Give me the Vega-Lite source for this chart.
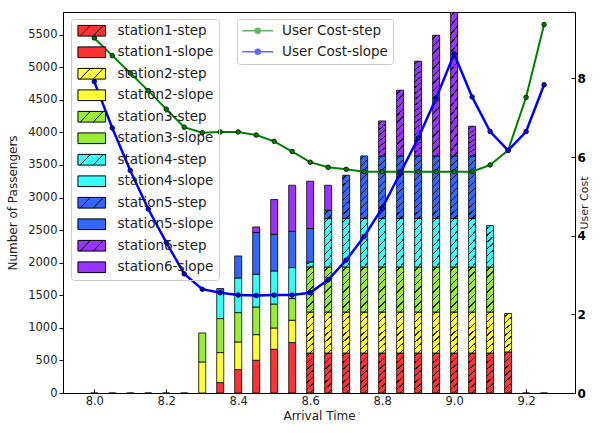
{
  "$schema": "https://vega.github.io/schema/vega-lite/v6.json",
  "width": 512,
  "height": 381,
  "autosize": {"type": "none"},
  "padding": {"left": 63, "top": 12, "right": 28, "bottom": 40},
  "config": {
    "view": {"stroke": "black", "strokeWidth": 1},
    "font": "DejaVu Sans",
    "axis": {"grid": false, "domainColor": "black", "tickColor": "black", "labelColor": "#222", "titleColor": "#222", "titleFontWeight": "normal", "labelFont": "DejaVu Sans", "titleFont": "DejaVu Sans"}
  },
  "datasets": {
    "bars": [
      {"t": 8.0, "seg": "station1-step", "v": 0},
      {"t": 8.05, "seg": "station1-step", "v": 0},
      {"t": 8.1, "seg": "station1-step", "v": 0},
      {"t": 8.15, "seg": "station1-step", "v": 0},
      {"t": 8.2, "seg": "station1-step", "v": 0},
      {"t": 8.25, "seg": "station1-step", "v": 0},
      {"t": 8.3, "seg": "station2-slope", "v": 476},
      {"t": 8.3, "seg": "station3-slope", "v": 445},
      {"t": 8.35, "seg": "station1-slope", "v": 160},
      {"t": 8.35, "seg": "station2-slope", "v": 460},
      {"t": 8.35, "seg": "station3-slope", "v": 522},
      {"t": 8.35, "seg": "station4-slope", "v": 413},
      {"t": 8.35, "seg": "station5-slope", "v": 48},
      {"t": 8.4, "seg": "station1-slope", "v": 359},
      {"t": 8.4, "seg": "station2-slope", "v": 424},
      {"t": 8.4, "seg": "station3-slope", "v": 451},
      {"t": 8.4, "seg": "station4-slope", "v": 531},
      {"t": 8.4, "seg": "station5-slope", "v": 338},
      {"t": 8.45, "seg": "station1-slope", "v": 502},
      {"t": 8.45, "seg": "station2-slope", "v": 394},
      {"t": 8.45, "seg": "station3-slope", "v": 424},
      {"t": 8.45, "seg": "station4-slope", "v": 502},
      {"t": 8.45, "seg": "station5-slope", "v": 640},
      {"t": 8.45, "seg": "station6-slope", "v": 86},
      {"t": 8.5, "seg": "station1-slope", "v": 671},
      {"t": 8.5, "seg": "station2-slope", "v": 327},
      {"t": 8.5, "seg": "station3-slope", "v": 368},
      {"t": 8.5, "seg": "station4-slope", "v": 507},
      {"t": 8.5, "seg": "station5-slope", "v": 563},
      {"t": 8.5, "seg": "station6-slope", "v": 533},
      {"t": 8.55, "seg": "station1-slope", "v": 774},
      {"t": 8.55, "seg": "station2-slope", "v": 342},
      {"t": 8.55, "seg": "station3-slope", "v": 333},
      {"t": 8.55, "seg": "station4-slope", "v": 476},
      {"t": 8.55, "seg": "station5-slope", "v": 557},
      {"t": 8.55, "seg": "station6-slope", "v": 706},
      {"t": 8.6, "seg": "station1-step", "v": 614},
      {"t": 8.6, "seg": "station2-step", "v": 629},
      {"t": 8.6, "seg": "station3-step", "v": 691},
      {"t": 8.6, "seg": "station4-step", "v": 77},
      {"t": 8.6, "seg": "station5-slope", "v": 513},
      {"t": 8.6, "seg": "station6-slope", "v": 726},
      {"t": 8.65, "seg": "station1-step", "v": 614},
      {"t": 8.65, "seg": "station2-step", "v": 629},
      {"t": 8.65, "seg": "station3-step", "v": 691},
      {"t": 8.65, "seg": "station4-step", "v": 743},
      {"t": 8.65, "seg": "station5-step", "v": 127},
      {"t": 8.65, "seg": "station6-slope", "v": 384},
      {"t": 8.7, "seg": "station1-step", "v": 614},
      {"t": 8.7, "seg": "station2-step", "v": 629},
      {"t": 8.7, "seg": "station3-step", "v": 691},
      {"t": 8.7, "seg": "station4-step", "v": 743},
      {"t": 8.7, "seg": "station5-step", "v": 665},
      {"t": 8.75, "seg": "station1-step", "v": 614},
      {"t": 8.75, "seg": "station2-step", "v": 629},
      {"t": 8.75, "seg": "station3-step", "v": 691},
      {"t": 8.75, "seg": "station4-step", "v": 743},
      {"t": 8.75, "seg": "station5-step", "v": 961},
      {"t": 8.8, "seg": "station1-step", "v": 614},
      {"t": 8.8, "seg": "station2-step", "v": 629},
      {"t": 8.8, "seg": "station3-step", "v": 691},
      {"t": 8.8, "seg": "station4-step", "v": 743},
      {"t": 8.8, "seg": "station5-step", "v": 961},
      {"t": 8.8, "seg": "station6-step", "v": 537},
      {"t": 8.85, "seg": "station1-step", "v": 614},
      {"t": 8.85, "seg": "station2-step", "v": 629},
      {"t": 8.85, "seg": "station3-step", "v": 691},
      {"t": 8.85, "seg": "station4-step", "v": 743},
      {"t": 8.85, "seg": "station5-step", "v": 961},
      {"t": 8.85, "seg": "station6-step", "v": 1009},
      {"t": 8.9, "seg": "station1-step", "v": 614},
      {"t": 8.9, "seg": "station2-step", "v": 629},
      {"t": 8.9, "seg": "station3-step", "v": 691},
      {"t": 8.9, "seg": "station4-step", "v": 743},
      {"t": 8.9, "seg": "station5-step", "v": 961},
      {"t": 8.9, "seg": "station6-step", "v": 1454},
      {"t": 8.95, "seg": "station1-step", "v": 614},
      {"t": 8.95, "seg": "station2-step", "v": 629},
      {"t": 8.95, "seg": "station3-step", "v": 691},
      {"t": 8.95, "seg": "station4-step", "v": 743},
      {"t": 8.95, "seg": "station5-step", "v": 961},
      {"t": 8.95, "seg": "station6-step", "v": 1853},
      {"t": 9.0, "seg": "station1-step", "v": 614},
      {"t": 9.0, "seg": "station2-step", "v": 629},
      {"t": 9.0, "seg": "station3-step", "v": 691},
      {"t": 9.0, "seg": "station4-step", "v": 743},
      {"t": 9.0, "seg": "station5-step", "v": 961},
      {"t": 9.0, "seg": "station6-step", "v": 2209},
      {"t": 9.05, "seg": "station1-step", "v": 614},
      {"t": 9.05, "seg": "station2-step", "v": 629},
      {"t": 9.05, "seg": "station3-step", "v": 691},
      {"t": 9.05, "seg": "station4-step", "v": 743},
      {"t": 9.05, "seg": "station5-step", "v": 961},
      {"t": 9.05, "seg": "station6-step", "v": 456},
      {"t": 9.1, "seg": "station1-step", "v": 614},
      {"t": 9.1, "seg": "station2-step", "v": 629},
      {"t": 9.1, "seg": "station3-step", "v": 691},
      {"t": 9.1, "seg": "station4-step", "v": 636},
      {"t": 9.15, "seg": "station1-step", "v": 630},
      {"t": 9.15, "seg": "station2-step", "v": 590},
      {"t": 9.2, "seg": "station1-step", "v": 0},
      {"t": 9.25, "seg": "station1-step", "v": 0}
    ],
    "cost": [
      {"t": 8.0, "series": "User Cost-step", "cost": 9.03},
      {"t": 8.05, "series": "User Cost-step", "cost": 8.58},
      {"t": 8.1, "series": "User Cost-step", "cost": 8.14},
      {"t": 8.15, "series": "User Cost-step", "cost": 7.69},
      {"t": 8.2, "series": "User Cost-step", "cost": 7.22},
      {"t": 8.25, "series": "User Cost-step", "cost": 6.76},
      {"t": 8.3, "series": "User Cost-step", "cost": 6.62},
      {"t": 8.35, "series": "User Cost-step", "cost": 6.64},
      {"t": 8.4, "series": "User Cost-step", "cost": 6.64},
      {"t": 8.45, "series": "User Cost-step", "cost": 6.56},
      {"t": 8.5, "series": "User Cost-step", "cost": 6.40},
      {"t": 8.55, "series": "User Cost-step", "cost": 6.14},
      {"t": 8.6, "series": "User Cost-step", "cost": 5.87},
      {"t": 8.65, "series": "User Cost-step", "cost": 5.74},
      {"t": 8.7, "series": "User Cost-step", "cost": 5.69},
      {"t": 8.75, "series": "User Cost-step", "cost": 5.63},
      {"t": 8.8, "series": "User Cost-step", "cost": 5.63},
      {"t": 8.85, "series": "User Cost-step", "cost": 5.63},
      {"t": 8.9, "series": "User Cost-step", "cost": 5.63},
      {"t": 8.95, "series": "User Cost-step", "cost": 5.63},
      {"t": 9.0, "series": "User Cost-step", "cost": 5.63},
      {"t": 9.05, "series": "User Cost-step", "cost": 5.63},
      {"t": 9.1, "series": "User Cost-step", "cost": 5.80},
      {"t": 9.15, "series": "User Cost-step", "cost": 6.17},
      {"t": 9.2, "series": "User Cost-step", "cost": 7.52},
      {"t": 9.25, "series": "User Cost-step", "cost": 9.37},
      {"t": 8.0, "series": "User Cost-slope", "cost": 7.92},
      {"t": 8.05, "series": "User Cost-slope", "cost": 6.74},
      {"t": 8.1, "series": "User Cost-slope", "cost": 5.66},
      {"t": 8.15, "series": "User Cost-slope", "cost": 4.68},
      {"t": 8.2, "series": "User Cost-slope", "cost": 3.83},
      {"t": 8.25, "series": "User Cost-slope", "cost": 3.03},
      {"t": 8.3, "series": "User Cost-slope", "cost": 2.64},
      {"t": 8.35, "series": "User Cost-slope", "cost": 2.55},
      {"t": 8.4, "series": "User Cost-slope", "cost": 2.49},
      {"t": 8.45, "series": "User Cost-slope", "cost": 2.48},
      {"t": 8.5, "series": "User Cost-slope", "cost": 2.49},
      {"t": 8.55, "series": "User Cost-slope", "cost": 2.49},
      {"t": 8.6, "series": "User Cost-slope", "cost": 2.55},
      {"t": 8.65, "series": "User Cost-slope", "cost": 2.88},
      {"t": 8.7, "series": "User Cost-slope", "cost": 3.38},
      {"t": 8.75, "series": "User Cost-slope", "cost": 3.98},
      {"t": 8.8, "series": "User Cost-slope", "cost": 4.70},
      {"t": 8.85, "series": "User Cost-slope", "cost": 5.59},
      {"t": 8.9, "series": "User Cost-slope", "cost": 6.48},
      {"t": 8.95, "series": "User Cost-slope", "cost": 7.50},
      {"t": 9.0, "series": "User Cost-slope", "cost": 8.62},
      {"t": 9.05, "series": "User Cost-slope", "cost": 7.53},
      {"t": 9.1, "series": "User Cost-slope", "cost": 6.65},
      {"t": 9.15, "series": "User Cost-slope", "cost": 6.17},
      {"t": 9.2, "series": "User Cost-slope", "cost": 6.65},
      {"t": 9.25, "series": "User Cost-slope", "cost": 7.84}
    ]
  },
  "encoding": {
    "x": {
      "field": "t", "type": "quantitative",
      "scale": {"domain": [7.927, 9.322], "nice": false, "zero": false},
      "axis": {"title": "Arrival Time", "values": [8.0, 8.2, 8.4, 8.6, 8.8, 9.0, 9.2], "format": ".1f", "tickSize": -4, "labelPadding": 6, "labelFontSize": 11.5, "titleFontSize": 12, "titlePadding": 4}
    }
  },
  "layer": [
    {
      "data": {"name": "bars"},
      "transform": [
        {"stack": "v", "groupby": ["t"], "sort": [{"field": "seg", "order": "ascending"}], "as": ["y0", "y1"]}
      ],
      "encoding": {
        "y": {
          "field": "y1", "type": "quantitative",
          "scale": {"domain": [0, 5847], "nice": false, "zero": true},
          "axis": {"title": "Number of Passengers", "format": "d", "values": [0, 500, 1000, 1500, 2000, 2500, 3000, 3500, 4000, 4500, 5000, 5500], "tickSize": 4, "labelPadding": 2, "labelFontSize": 11.5, "titleFontSize": 12, "titlePadding": 8}
        },
        "y2": {"field": "y0"}
      },
      "layer": [
        {
          "mark": {"type": "bar", "width": 7, "stroke": "black", "strokeWidth": 0.8, "clip": true},
          "encoding": {
            "fill": {
              "field": "seg", "type": "nominal",
              "scale": {
                "domain": ["station1-step", "station1-slope", "station2-step", "station2-slope", "station3-step", "station3-slope", "station4-step", "station4-slope", "station5-step", "station5-slope", "station6-step", "station6-slope"],
                "range": ["#ff3333", "#ff3333", "#ffff33", "#ffff33", "#99ee33", "#99ee33", "#33ffff", "#33ffff", "#3366ff", "#3366ff", "#9933ff", "#9933ff"]
              },
              "legend": {
                "orient": "none", "legendX": 8, "legendY": 7, "title": null, "direction": "vertical",
                "padding": 5, "symbolOffset": 9, "labelOffset": 19, "rowPadding": 5.5,
                "labelFontSize": 13.5, "labelFont": "DejaVu Sans", "labelColor": "#222",
                "symbolSize": 100, "symbolStrokeColor": "black", "symbolStrokeWidth": 1,
                "strokeColor": "#cccccc", "cornerRadius": 3,
                "encode": {
                  "symbols": {
                    "update": {
                      "shape": [
                        {"test": "indexof(datum.value,'step')>=0", "value": "M-2.76,-1.07H2.76V1.07H-2.76Z M-2.3,1.07L-0.3,-1.07 M0.3,1.07L2.3,-1.07"},
                        {"value": "M-2.76,-1.07H2.76V1.07H-2.76Z"}
                      ]
                    }
                  }
                }
              }
            }
          }
        },
        {
          "transform": [{"filter": "indexof(datum.seg,'step')>=0 && datum.v>0 && datum.v<300"}],
          "mark": {"type": "bar", "width": 7, "strokeWidth": 0, "clip": true,
            "fill": {"gradient": "linear", "x1": 0, "y1": 0, "x2": 1, "y2": 1, "stops": [
              {"offset": 0, "color": "rgba(0,0,0,0)"},
              {"offset": 0.2, "color": "rgba(0,0,0,0)"}, {"offset": 0.2, "color": "rgba(0,0,0,0.85)"},
              {"offset": 0.3, "color": "rgba(0,0,0,0.85)"}, {"offset": 0.3, "color": "rgba(0,0,0,0)"},
              {"offset": 0.7, "color": "rgba(0,0,0,0)"}, {"offset": 0.7, "color": "rgba(0,0,0,0.85)"},
              {"offset": 0.8, "color": "rgba(0,0,0,0.85)"}, {"offset": 0.8, "color": "rgba(0,0,0,0)"},
              {"offset": 1, "color": "rgba(0,0,0,0)"}
            ]}
          }
        },
        {
          "transform": [{"filter": "indexof(datum.seg,'step')>=0 && datum.v>=300 && datum.v<800"}],
          "mark": {"type": "bar", "width": 7, "strokeWidth": 0, "clip": true,
            "fill": {"gradient": "linear", "x1": 0, "y1": 0, "x2": 0.1755, "y2": 1.128, "stops": [
              {"offset": 0, "color": "rgba(0,0,0,0)"},
              {"offset": 0.0571, "color": "rgba(0,0,0,0)"}, {"offset": 0.0571, "color": "rgba(0,0,0,0.85)"},
              {"offset": 0.0857, "color": "rgba(0,0,0,0.85)"}, {"offset": 0.0857, "color": "rgba(0,0,0,0)"},
              {"offset": 0.2, "color": "rgba(0,0,0,0)"}, {"offset": 0.2, "color": "rgba(0,0,0,0.85)"},
              {"offset": 0.2286, "color": "rgba(0,0,0,0.85)"}, {"offset": 0.2286, "color": "rgba(0,0,0,0)"},
              {"offset": 0.3429, "color": "rgba(0,0,0,0)"}, {"offset": 0.3429, "color": "rgba(0,0,0,0.85)"},
              {"offset": 0.3714, "color": "rgba(0,0,0,0.85)"}, {"offset": 0.3714, "color": "rgba(0,0,0,0)"},
              {"offset": 0.4857, "color": "rgba(0,0,0,0)"}, {"offset": 0.4857, "color": "rgba(0,0,0,0.85)"},
              {"offset": 0.5143, "color": "rgba(0,0,0,0.85)"}, {"offset": 0.5143, "color": "rgba(0,0,0,0)"},
              {"offset": 0.6286, "color": "rgba(0,0,0,0)"}, {"offset": 0.6286, "color": "rgba(0,0,0,0.85)"},
              {"offset": 0.6571, "color": "rgba(0,0,0,0.85)"}, {"offset": 0.6571, "color": "rgba(0,0,0,0)"},
              {"offset": 0.7714, "color": "rgba(0,0,0,0)"}, {"offset": 0.7714, "color": "rgba(0,0,0,0.85)"},
              {"offset": 0.8, "color": "rgba(0,0,0,0.85)"}, {"offset": 0.8, "color": "rgba(0,0,0,0)"},
              {"offset": 0.9143, "color": "rgba(0,0,0,0)"}, {"offset": 0.9143, "color": "rgba(0,0,0,0.85)"},
              {"offset": 0.9429, "color": "rgba(0,0,0,0.85)"}, {"offset": 0.9429, "color": "rgba(0,0,0,0)"},
              {"offset": 1, "color": "rgba(0,0,0,0)"}
            ]}
          }
        },
        {
          "transform": [{"filter": "indexof(datum.seg,'step')>=0 && datum.v>=800 && datum.v<1200"}],
          "mark": {"type": "bar", "width": 7, "strokeWidth": 0, "clip": true,
            "fill": {"gradient": "linear", "x1": 0, "y1": 0, "x2": 0.1199, "y2": 1.0963, "stops": [
              {"offset": 0, "color": "rgba(0,0,0,0)"},
              {"offset": 0.04, "color": "rgba(0,0,0,0)"}, {"offset": 0.04, "color": "rgba(0,0,0,0.85)"},
              {"offset": 0.06, "color": "rgba(0,0,0,0.85)"}, {"offset": 0.06, "color": "rgba(0,0,0,0)"},
              {"offset": 0.14, "color": "rgba(0,0,0,0)"}, {"offset": 0.14, "color": "rgba(0,0,0,0.85)"},
              {"offset": 0.16, "color": "rgba(0,0,0,0.85)"}, {"offset": 0.16, "color": "rgba(0,0,0,0)"},
              {"offset": 0.24, "color": "rgba(0,0,0,0)"}, {"offset": 0.24, "color": "rgba(0,0,0,0.85)"},
              {"offset": 0.26, "color": "rgba(0,0,0,0.85)"}, {"offset": 0.26, "color": "rgba(0,0,0,0)"},
              {"offset": 0.34, "color": "rgba(0,0,0,0)"}, {"offset": 0.34, "color": "rgba(0,0,0,0.85)"},
              {"offset": 0.36, "color": "rgba(0,0,0,0.85)"}, {"offset": 0.36, "color": "rgba(0,0,0,0)"},
              {"offset": 0.44, "color": "rgba(0,0,0,0)"}, {"offset": 0.44, "color": "rgba(0,0,0,0.85)"},
              {"offset": 0.46, "color": "rgba(0,0,0,0.85)"}, {"offset": 0.46, "color": "rgba(0,0,0,0)"},
              {"offset": 0.54, "color": "rgba(0,0,0,0)"}, {"offset": 0.54, "color": "rgba(0,0,0,0.85)"},
              {"offset": 0.56, "color": "rgba(0,0,0,0.85)"}, {"offset": 0.56, "color": "rgba(0,0,0,0)"},
              {"offset": 0.64, "color": "rgba(0,0,0,0)"}, {"offset": 0.64, "color": "rgba(0,0,0,0.85)"},
              {"offset": 0.66, "color": "rgba(0,0,0,0.85)"}, {"offset": 0.66, "color": "rgba(0,0,0,0)"},
              {"offset": 0.74, "color": "rgba(0,0,0,0)"}, {"offset": 0.74, "color": "rgba(0,0,0,0.85)"},
              {"offset": 0.76, "color": "rgba(0,0,0,0.85)"}, {"offset": 0.76, "color": "rgba(0,0,0,0)"},
              {"offset": 0.84, "color": "rgba(0,0,0,0)"}, {"offset": 0.84, "color": "rgba(0,0,0,0.85)"},
              {"offset": 0.86, "color": "rgba(0,0,0,0.85)"}, {"offset": 0.86, "color": "rgba(0,0,0,0)"},
              {"offset": 0.94, "color": "rgba(0,0,0,0)"}, {"offset": 0.94, "color": "rgba(0,0,0,0.85)"},
              {"offset": 0.96, "color": "rgba(0,0,0,0.85)"}, {"offset": 0.96, "color": "rgba(0,0,0,0)"},
              {"offset": 1, "color": "rgba(0,0,0,0)"}
            ]}
          }
        },
        {
          "transform": [{"filter": "indexof(datum.seg,'step')>=0 && datum.v>=1200"}],
          "mark": {"type": "bar", "width": 7, "strokeWidth": 0, "clip": true,
            "fill": {"gradient": "linear", "x1": 0, "y1": 0, "x2": 0.0615, "y2": 1.0547, "stops": [
              {"offset": 0, "color": "rgba(0,0,0,0)"},
              {"offset": 0.0235, "color": "rgba(0,0,0,0)"}, {"offset": 0.0235, "color": "rgba(0,0,0,0.85)"},
              {"offset": 0.0353, "color": "rgba(0,0,0,0.85)"}, {"offset": 0.0353, "color": "rgba(0,0,0,0)"},
              {"offset": 0.0824, "color": "rgba(0,0,0,0)"}, {"offset": 0.0824, "color": "rgba(0,0,0,0.85)"},
              {"offset": 0.0941, "color": "rgba(0,0,0,0.85)"}, {"offset": 0.0941, "color": "rgba(0,0,0,0)"},
              {"offset": 0.1412, "color": "rgba(0,0,0,0)"}, {"offset": 0.1412, "color": "rgba(0,0,0,0.85)"},
              {"offset": 0.1529, "color": "rgba(0,0,0,0.85)"}, {"offset": 0.1529, "color": "rgba(0,0,0,0)"},
              {"offset": 0.2, "color": "rgba(0,0,0,0)"}, {"offset": 0.2, "color": "rgba(0,0,0,0.85)"},
              {"offset": 0.2118, "color": "rgba(0,0,0,0.85)"}, {"offset": 0.2118, "color": "rgba(0,0,0,0)"},
              {"offset": 0.2588, "color": "rgba(0,0,0,0)"}, {"offset": 0.2588, "color": "rgba(0,0,0,0.85)"},
              {"offset": 0.2706, "color": "rgba(0,0,0,0.85)"}, {"offset": 0.2706, "color": "rgba(0,0,0,0)"},
              {"offset": 0.3176, "color": "rgba(0,0,0,0)"}, {"offset": 0.3176, "color": "rgba(0,0,0,0.85)"},
              {"offset": 0.3294, "color": "rgba(0,0,0,0.85)"}, {"offset": 0.3294, "color": "rgba(0,0,0,0)"},
              {"offset": 0.3765, "color": "rgba(0,0,0,0)"}, {"offset": 0.3765, "color": "rgba(0,0,0,0.85)"},
              {"offset": 0.3882, "color": "rgba(0,0,0,0.85)"}, {"offset": 0.3882, "color": "rgba(0,0,0,0)"},
              {"offset": 0.4353, "color": "rgba(0,0,0,0)"}, {"offset": 0.4353, "color": "rgba(0,0,0,0.85)"},
              {"offset": 0.4471, "color": "rgba(0,0,0,0.85)"}, {"offset": 0.4471, "color": "rgba(0,0,0,0)"},
              {"offset": 0.4941, "color": "rgba(0,0,0,0)"}, {"offset": 0.4941, "color": "rgba(0,0,0,0.85)"},
              {"offset": 0.5059, "color": "rgba(0,0,0,0.85)"}, {"offset": 0.5059, "color": "rgba(0,0,0,0)"},
              {"offset": 0.5529, "color": "rgba(0,0,0,0)"}, {"offset": 0.5529, "color": "rgba(0,0,0,0.85)"},
              {"offset": 0.5647, "color": "rgba(0,0,0,0.85)"}, {"offset": 0.5647, "color": "rgba(0,0,0,0)"},
              {"offset": 0.6118, "color": "rgba(0,0,0,0)"}, {"offset": 0.6118, "color": "rgba(0,0,0,0.85)"},
              {"offset": 0.6235, "color": "rgba(0,0,0,0.85)"}, {"offset": 0.6235, "color": "rgba(0,0,0,0)"},
              {"offset": 0.6706, "color": "rgba(0,0,0,0)"}, {"offset": 0.6706, "color": "rgba(0,0,0,0.85)"},
              {"offset": 0.6824, "color": "rgba(0,0,0,0.85)"}, {"offset": 0.6824, "color": "rgba(0,0,0,0)"},
              {"offset": 0.7294, "color": "rgba(0,0,0,0)"}, {"offset": 0.7294, "color": "rgba(0,0,0,0.85)"},
              {"offset": 0.7412, "color": "rgba(0,0,0,0.85)"}, {"offset": 0.7412, "color": "rgba(0,0,0,0)"},
              {"offset": 0.7882, "color": "rgba(0,0,0,0)"}, {"offset": 0.7882, "color": "rgba(0,0,0,0.85)"},
              {"offset": 0.8, "color": "rgba(0,0,0,0.85)"}, {"offset": 0.8, "color": "rgba(0,0,0,0)"},
              {"offset": 0.8471, "color": "rgba(0,0,0,0)"}, {"offset": 0.8471, "color": "rgba(0,0,0,0.85)"},
              {"offset": 0.8588, "color": "rgba(0,0,0,0.85)"}, {"offset": 0.8588, "color": "rgba(0,0,0,0)"},
              {"offset": 0.9059, "color": "rgba(0,0,0,0)"}, {"offset": 0.9059, "color": "rgba(0,0,0,0.85)"},
              {"offset": 0.9176, "color": "rgba(0,0,0,0.85)"}, {"offset": 0.9176, "color": "rgba(0,0,0,0)"},
              {"offset": 0.9647, "color": "rgba(0,0,0,0)"}, {"offset": 0.9647, "color": "rgba(0,0,0,0.85)"},
              {"offset": 0.9765, "color": "rgba(0,0,0,0.85)"}, {"offset": 0.9765, "color": "rgba(0,0,0,0)"},
              {"offset": 1, "color": "rgba(0,0,0,0)"}
            ]}
          }
        }
      ]
    },
    {
      "data": {"name": "cost"},
      "encoding": {
        "y": {
          "field": "cost", "type": "quantitative",
          "scale": {"domain": [0, 9.69], "nice": false, "zero": true},
          "axis": {"orient": "right", "title": "User Cost", "values": [0, 2, 4, 6, 8], "tickSize": -4, "labelPadding": 6, "labelFontSize": 12, "labelFontWeight": "bold", "labelColor": "black", "titleFontSize": 11, "titlePadding": 4, "titleAngle": 270}
        }
      },
      "layer": [
        {
          "transform": [{"filter": "datum.series === 'User Cost-step'"}],
          "mark": {"type": "line", "strokeWidth": 2},
          "encoding": {
            "stroke": {
              "field": "series", "type": "nominal",
              "scale": {"domain": ["User Cost-step", "User Cost-slope"], "range": ["#008000", "#0000ff"]},
              "legend": {
                "orient": "none", "legendX": 174, "legendY": 7, "title": null, "direction": "vertical",
                "padding": 5, "symbolOffset": 9, "labelOffset": 17.5, "rowPadding": 6,
                "labelFontSize": 13.5, "labelFont": "DejaVu Sans", "labelColor": "#222",
                "symbolSize": 100, "symbolStrokeWidth": 1.5, "symbolOpacity": 0.6,
                "strokeColor": "#cccccc", "cornerRadius": 3,
                "encode": {
                  "symbols": {
                    "update": {
                      "shape": {"value": "M-3.1,0H3.1M0.5,0A0.5,0.5 0 1,1 -0.5,0A0.5,0.5 0 1,1 0.5,0"},
                      "fill": [
                        {"test": "datum.value === 'User Cost-step'", "value": "#008000"},
                        {"value": "#0000ff"}
                      ]
                    }
                  }
                }
              }
            }
          }
        },
        {
          "transform": [{"filter": "datum.series === 'User Cost-step'"}],
          "mark": {"type": "point", "filled": true, "size": 20, "fill": "#008000", "stroke": "#002200", "strokeWidth": 1, "opacity": 1}
        },
        {
          "transform": [{"filter": "datum.series === 'User Cost-slope'"}],
          "mark": {"type": "line", "strokeWidth": 2.5},
          "encoding": {
            "stroke": {"field": "series", "type": "nominal"}
          }
        },
        {
          "transform": [{"filter": "datum.series === 'User Cost-slope'"}],
          "mark": {"type": "point", "filled": true, "size": 20, "fill": "#0000ff", "stroke": "#000044", "strokeWidth": 1, "opacity": 1}
        }
      ]
    }
  ],
  "resolve": {"scale": {"y": "independent"}}
}
